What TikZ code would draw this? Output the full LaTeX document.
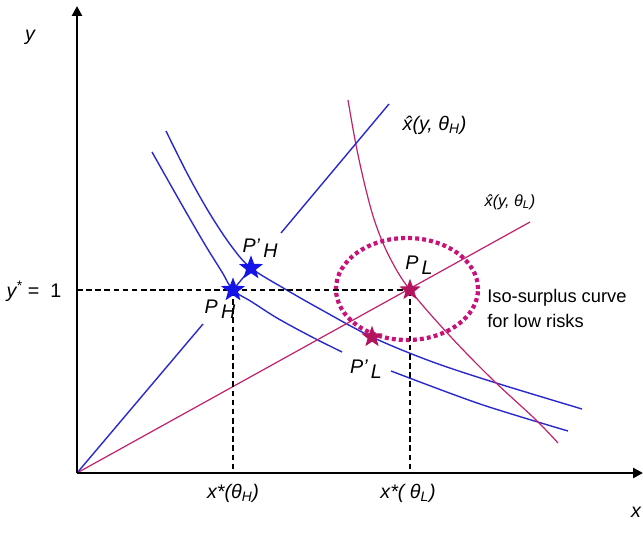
\documentclass[tikz,border=0pt]{standalone}
\usepackage{fontspec}
\setmainfont{Liberation Sans}
\usetikzlibrary{arrows.meta,shapes.geometric}
\definecolor{hblue}{HTML}{2A2ACC}
\definecolor{starblue}{HTML}{1414E6}
\definecolor{lmag}{HTML}{C21F6A}
\definecolor{dotmag}{HTML}{C8127A}
\definecolor{starmag}{HTML}{B3145E}
\newcommand{\lowsub}[1]{\raisebox{-0.5ex}{#1}}

\begin{document}
\begin{tikzpicture}[x=0.025cm,y=-0.025cm,
 axis/.style={line width=2pt,-{Triangle[length=7pt,width=7pt]}},
 guide/.style={line width=1.4pt,dash pattern=on 4pt off 2.5pt},
 hcurve/.style={draw=hblue,line width=1pt},
 lcurve/.style={draw=lmag,line width=0.85pt},
 isocurve/.style={draw=dotmag,line width=3pt,dash pattern=on 2.8pt off 2.2pt},
 hstar/.style={star,star points=5,star point ratio=2.4,fill=starblue,minimum size=0.63cm,inner sep=0pt},
 lstar/.style={hstar,fill=starmag,minimum size=0.56cm},
 lbl/.style={font=\fontsize{14}{16}\selectfont\itshape,inner sep=1pt},
 txt/.style={font=\fontsize{13}{17.8}\selectfont,align=left,inner sep=0pt}
]
\useasboundingbox (0,0) rectangle (643,536);
% points
\coordinate (O) at (77,473);
\coordinate (ytop) at (77,6);
\coordinate (xend) at (643,473);
\coordinate (PH) at (233,290);
\coordinate (PpH) at (251,268);
\coordinate (PL) at (410,290);
\coordinate (PpL) at (372,337);
% indifference curves of high risks
\draw[hcurve] plot[smooth,tension=0.55] coordinates {(152,152) (178,198) (204,243) (222,272) (233,290) (252,302) (277,318) (310,336) (342,352)};
\draw[hcurve] plot[smooth] coordinates {(391,371) (480,404) (568,431)};
\draw[hcurve] plot[smooth,tension=0.55] coordinates {(166,131) (188,175) (210,214) (232,247) (251,268) (285,289) (320,309) (372,337) (430,361) (493,382) (582,409)};
% indifference curve of low risks
\draw[lcurve] plot[smooth,tension=0.6] coordinates {(348,100) (356,145) (366,190) (376,225) (390,258) (410,290) (450,336) (493,380) (535,419) (558,443)};
% rays
\draw[hcurve] (O) -- (203,324);
\draw[hcurve] (PH) -- (PpH);
\draw[hcurve] (281,233) -- (389,104);
\draw[lcurve] (O) -- (530,222);
% iso-surplus curve
\draw[isocurve] (407,289) ellipse [x radius=1.775cm,y radius=1.275cm];
% guides
\draw[guide] (77,290) -- (PL);
\draw[guide] (PH) -- (233,473);
\draw[guide] (PL) -- (410,473);
% axes
\draw[axis] (O) -- (ytop);
\draw[axis] (O) -- (xend);
% stars
\node[hstar] (sPH) at (PH) {};
\node[hstar] (sPpH) at (PpH) {};
\node[lstar] (sPL) at (PL) {};
\node[lstar] (sPpL) at (PpL) {};
% labels
\node[lbl] (ylab) at (30,37) {y};
\node[lbl] (xlab) at (636,512) {x};
\node[lbl,anchor=east] (ystar) at (63,291) {y\textsuperscript{*}\upshape\ =~\ 1};
\node[lbl] (xH) at (233,493) {x*(θ\textsubscript{H})};
\node[lbl] (xL) at (408,493) {x*( θ\textsubscript{L})};
\node[lbl] (lPH) at (220,309) {P\,\lowsub{H}};
\node[lbl] (lPpH) at (260,248) {P’\,\lowsub{H}};
\node[lbl] (lPL) at (419,265) {P\,\lowsub{L}};
\node[lbl] (lPpL) at (366,369) {P’\,\lowsub{L}};
\node[lbl,anchor=west] (hatH) at (401,125) {\^{x}(y, θ\textsubscript{H})};
\node[lbl,anchor=west,font=\fontsize{11.5}{13}\selectfont\itshape] (hatL) at (483,202) {\^{x}(y, θ\textsubscript{L})};
\node[txt,anchor=west] (iso) at (487,308) {Iso-surplus curve\\for low risks};
\end{tikzpicture}
\end{document}
